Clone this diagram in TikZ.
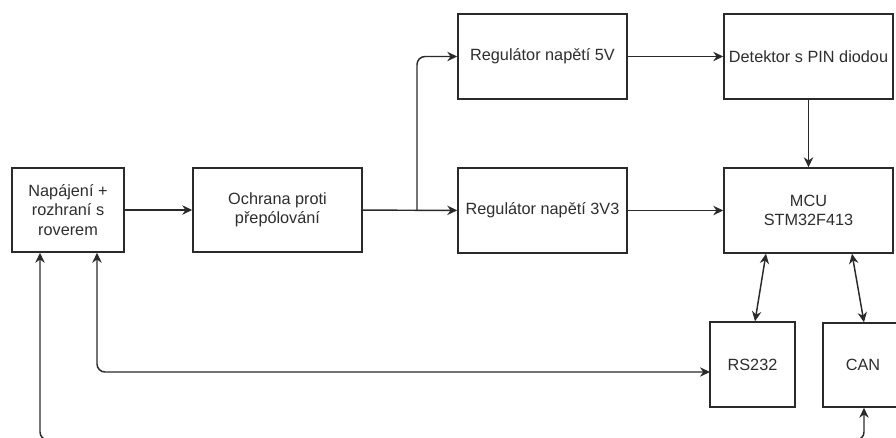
\documentclass[tikz,border=0pt]{standalone}
\usepackage{fontspec}
\setmainfont{Liberation Sans}
\usetikzlibrary{arrows.meta}
\definecolor{lc}{HTML}{2A2A2A}
\definecolor{tc}{HTML}{2E2E2E}
\begin{document}
\begin{tikzpicture}[x=0.75pt,y=-0.75pt,
  box/.style={draw=lc, line width=1.1pt, fill=white, align=center, inner sep=0pt,
              font=\fontsize{12.2}{14.5}\selectfont, text=tc},
  tip/.tip={Stealth[length=7.5pt,width=7pt]},
  conn/.style={draw=lc, line width=1.1pt, -tip},
  both/.style={draw=lc, line width=1.1pt, tip-tip},
  rc/.style={rounded corners=6pt}]
\useasboundingbox (0,0) rectangle (896,437);
% boxes
\node[box, minimum width=84pt, minimum height=63pt] (pwr) at (68,210) {Napájení +\\rozhraní s\\roverem};
\node[box, minimum width=126.75pt, minimum height=63pt] (ochr) at (277.5,210) {Ochrana proti\\přepólování};
\node[box, minimum width=126.75pt, minimum height=63.75pt] (reg5) at (542.5,56.5) {Regulátor napětí 5V};
\node[box, minimum width=126.75pt, minimum height=63.75pt] (det) at (808.5,56.5) {Detektor s PIN diodou};
\node[box, minimum width=126.75pt, minimum height=63.75pt] (reg3) at (542.5,210.5) {Regulátor napětí 3V3};
\node[box, minimum width=126.75pt, minimum height=63.75pt] (mcu) at (808.5,210.5) {MCU\\STM32F413};
\node[box, minimum width=63.75pt, minimum height=63.75pt] (rs) at (752.5,364.5) {RS232};
\node[box, minimum width=60pt, minimum height=63pt] (can) at (863,365) {CAN};
% helper coordinates
\coordinate (br) at (417,210);
\coordinate (x97) at (97,0);
\coordinate (rsin) at (710,372);
\coordinate (lowL) at (40,440);
\coordinate (x766) at (766,0);
\coordinate (x755) at (755,0);
\coordinate (x852) at (852,0);
\coordinate (x864) at (864,0);
% connectors
\draw[conn] (pwr) -- (ochr);
\draw[conn] (ochr) -- (reg3);
\draw[conn, rc] (br) |- (reg5.west);
\draw[conn] (reg5) -- (det);
\draw[conn] (reg3) -- (mcu);
\draw[conn] (det) -- (mcu);
\draw[both] (mcu.south -| x766) -- (rs.north -| x755);
\draw[both] (mcu.south -| x852) -- (can.north -| x864);
\draw[both, rc] (pwr.south -| x97) |- (rsin);
\draw[both, rc] (pwr.south -| lowL) -- (lowL) -| (can.south -| x864);
\end{tikzpicture}
\end{document}
